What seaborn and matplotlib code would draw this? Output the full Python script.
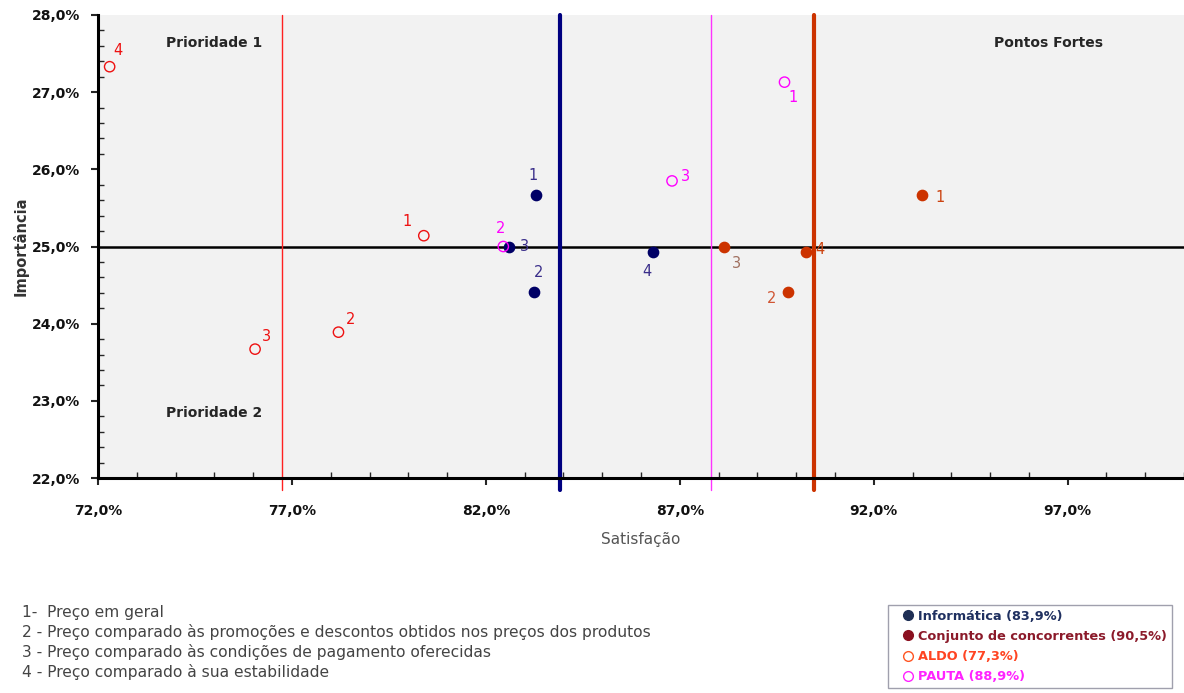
import matplotlib
matplotlib.use("Agg")
import matplotlib.pyplot as plt
import matplotlib.ticker as mticker
from matplotlib.lines import Line2D
import seaborn as sns
import pandas as pd

# dados (satisfação x importância, em %)
info_sat = [83.3, 83.25, 82.6, 86.3]
info_imp = [25.67, 24.41, 25.0, 24.93]
conc_sat = [93.25, 89.8, 88.15, 90.25]
conc_imp = [25.67, 24.41, 25.0, 24.93]
aldo_sat = [80.4, 78.2, 76.05, 72.3]
aldo_imp = [25.14, 23.89, 23.67, 27.33]
pauta_sat = [89.7, 82.45, 86.8]
pauta_imp = [27.13, 25.0, 25.85]

ref_lines = {'Informática': 83.9, 'Conjunto': 90.45, 'ALDO': 76.75, 'PAUTA': 87.8}
imp_media = 25.0

legend_labels = ['Informática (83,9%)', 'Conjunto de concorrentes (90,5%)',
                 'ALDO (77,3%)', 'PAUTA (88,9%)']
notas = ['1-  Preço em geral',
         '2 - Preço comparado às promoções e descontos obtidos nos preços dos produtos',
         '3 - Preço comparado às condições de pagamento oferecidas',
         '4 - Preço comparado à sua estabilidade']

sns.set_style("white")
plt.rcParams['font.family'] = ['DejaVu Sans']

fig = plt.figure(figsize=(11.84, 6.93), dpi=100)
ax = fig.add_axes([98 / 1184, 1 - 478 / 693, 1 - 98 / 1184, (478 - 15) / 693])
ax.set_facecolor('#F2F2F2')

ax.set_xlim(72, 100)
ax.set_ylim(22, 28)

# linhas de referência
ax.axhline(imp_media, color='black', lw=1.8, zorder=2)
ax.axvline(ref_lines['ALDO'], ymin=-0.025, color='#FF2020', lw=1.0, clip_on=False, zorder=2)
ax.axvline(ref_lines['PAUTA'], ymin=-0.025, color='#FF33FF', lw=1.0, clip_on=False, zorder=2)
ax.axvline(ref_lines['Informática'], ymin=-0.025, color='#000080', lw=3.0, clip_on=False, zorder=2)
ax.axvline(ref_lines['Conjunto'], ymin=-0.025, color='#CC3300', lw=3.0, clip_on=False, zorder=2)

grupos = [
    ('Informática', info_sat, info_imp, '#000066', ['#3A2E8A'] * 4, True,
     [(-2, 14), (3, 14), (11, 0), (-4, -14)]),
    ('Conjunto', conc_sat, conc_imp, '#CC3300', ['#CC4411', '#D05533', '#A07060', '#CC4411'], True,
     [(13, -2), (-12, -5), (9, -12), (10, 2)]),
    ('ALDO', aldo_sat, aldo_imp, '#EE1111', ['#EE1111'] * 4, False,
     [(-12, 10), (9, 9), (8, 9), (6, 12)]),
    ('PAUTA', pauta_sat, pauta_imp, '#FF00FF', ['#FF00FF'] * 3, False,
     [(6, -11), (-2, 13), (10, 3)]),
]

for nome, xs, ys, cor, cores_txt, cheio, offs in grupos:
    df = pd.DataFrame({'sat': xs, 'imp': ys})
    sns.scatterplot(data=df, x='sat', y='imp', ax=ax, color=cor, s=55,
                    edgecolor=cor, linewidth=1.0, zorder=4, legend=False)
    if not cheio:
        ax.collections[-1].set_facecolor('none')
    for i, (x, y) in enumerate(zip(xs, ys)):
        ax.annotate(str(i + 1), (x, y), xytext=offs[i], textcoords='offset points',
                    ha='center', va='center', fontsize=10.5, color=cores_txt[i], zorder=5)

# textos dos quadrantes
ax.text(75.0, 27.64, 'Prioridade 1', ha='center', va='center', fontsize=10, fontweight='bold')
ax.text(75.0, 22.84, 'Prioridade 2', ha='center', va='center', fontsize=10, fontweight='bold')
ax.text(96.5, 27.64, 'Pontos Fortes', ha='center', va='center', fontsize=10, fontweight='bold')

# eixos
fmt = mticker.FuncFormatter(lambda v, p: f"{v:.1f}%".replace('.', ','))
ax.xaxis.set_major_locator(mticker.MultipleLocator(5, offset=2))
ax.xaxis.set_minor_locator(mticker.MultipleLocator(1))
ax.yaxis.set_major_locator(mticker.MultipleLocator(1))
ax.yaxis.set_minor_locator(mticker.MultipleLocator(0.2))
ax.xaxis.set_major_formatter(fmt)
ax.yaxis.set_major_formatter(fmt)
ax.tick_params(axis='x', which='major', direction='out', length=5, width=1.5, pad=14,
               labelsize=10, bottom=True)
ax.tick_params(axis='x', which='minor', direction='in', length=4, width=1.0, bottom=True)
ax.tick_params(axis='y', which='major', direction='out', length=5, width=1.5, pad=8,
               labelsize=10, left=True)
ax.tick_params(axis='y', which='minor', direction='in', length=4, width=1.0, left=True)
for lab in ax.get_xticklabels() + ax.get_yticklabels():
    lab.set_fontweight('bold')
    lab.set_color('#111111')

for s in ['top', 'right']:
    ax.spines[s].set_visible(False)
for s in ['left', 'bottom']:
    ax.spines[s].set_color('black')
    ax.spines[s].set_linewidth(2.2)

ax.set_xlabel('Satisfação', fontsize=11, color='#555555', labelpad=10)
ax.set_ylabel('Importância', fontsize=10.5, fontweight='bold', color='#333333', labelpad=2)

# notas
for i, t in enumerate(notas):
    fig.text(22 / 1184, 1 - (612 + 20 * i) / 693, t, fontsize=11.2, color='#444444',
             ha='left', va='center')

# legenda
handles = [
    Line2D([], [], marker='o', ls='', color='#1F2F55', markersize=7),
    Line2D([], [], marker='o', ls='', color='#8B1020', markersize=7),
    Line2D([], [], marker='o', ls='', color='#FF5522', markerfacecolor='none', markersize=7),
    Line2D([], [], marker='o', ls='', color='#FF22FF', markerfacecolor='none', markersize=7),
]
leg = fig.legend(handles, legend_labels, loc='upper left',
                 bbox_to_anchor=(888 / 1184, 1 - 606 / 693, 284 / 1184, 0.001),
                 mode='expand', frameon=True,
                 fancybox=False, edgecolor='#888899', fontsize=9.3,
                 labelcolor=['#1F3060', '#8B1A2A', '#FF4422', '#FF22FF'],
                 handletextpad=-0.4, handlelength=2.4, labelspacing=0.55,
                 borderpad=0.35, borderaxespad=0)
for t in leg.get_texts():
    t.set_fontweight('bold')
leg.get_frame().set_linewidth(1.0)

fig.savefig('out.png', dpi=100)
